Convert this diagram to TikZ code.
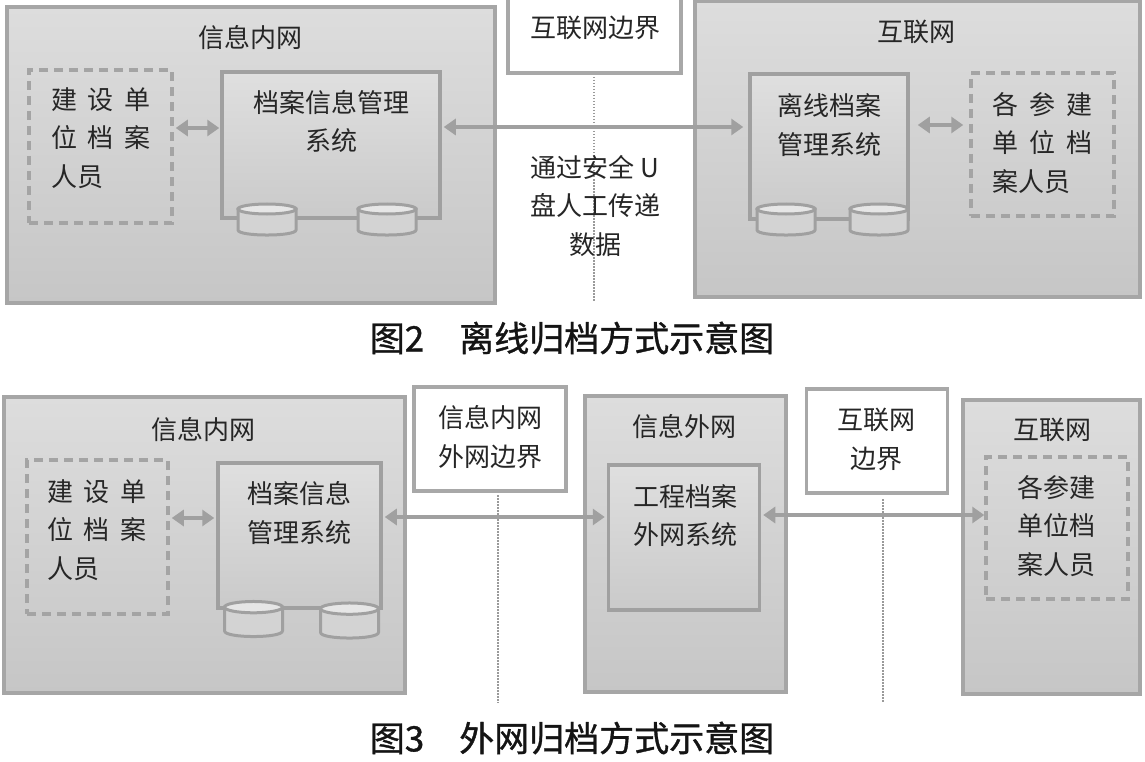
\documentclass[tikz,border=0pt]{standalone}
\usepackage{fontspec}
\setmainfont{Noto Sans CJK SC}
\usetikzlibrary{arrows.meta}
\definecolor{netline}{HTML}{A6A6A6}
\definecolor{nettop}{HTML}{DDDDDD}
\definecolor{netbot}{HTML}{C6C6C6}
\definecolor{sysline}{HTML}{A0A0A0}
\definecolor{systop}{HTML}{DFDFDF}
\definecolor{sysbot}{HTML}{CACACA}
\definecolor{dashline}{HTML}{A4A4A4}
\definecolor{borderline}{HTML}{A8A8A8}
\definecolor{arrowc}{HTML}{A0A0A0}
\definecolor{dotc}{HTML}{9A9A9A}
\definecolor{cylbody}{HTML}{D3D3D3}
\definecolor{cyltop}{HTML}{E6E6E6}
\definecolor{txt}{HTML}{262626}
\definecolor{captxt}{HTML}{141414}
\tikzset{
  net/.style={draw=netline, line width=3.5pt, top color=nettop, bottom color=netbot, inner sep=0pt},
  sysbox/.style={draw=sysline, line width=3.5pt, top color=systop, bottom color=sysbot, inner sep=0pt},
  person/.style={draw=dashline, line width=3.5pt, dash pattern=on 9pt off 6pt, inner sep=0pt},
  borderbox/.style={draw=borderline, line width=3.5pt, fill=white, inner sep=0pt},
  lbl/.style={font=\fontsize{26}{38.5}\selectfont, text=txt, inner sep=0pt, align=center},
  lbll/.style={lbl, align=left},
  ttl/.style={font=\fontsize{26}{30}\selectfont, text=txt, inner sep=0pt},
  figcaption/.style={font=\fontsize{35}{40}\selectfont\addfontfeature{FakeBold=1}, text=captxt, inner sep=0pt},
  link/.style={draw=arrowc, line width=3.5pt, {Triangle[length=12pt,width=16pt]}-{Triangle[length=12pt,width=16pt]}},
  dotline/.style={draw=dotc, line width=2pt, dash pattern=on 1.5pt off 1.5pt},
  pics/dbcyl/.style={code={
    \path[fill=cylbody, draw=sysline, line width=3pt] (-29,-10.5) -- (-29,10.5)
      .. controls (-29,17.2) and (29,17.2) .. (29,10.5) -- (29,-10.5) -- cycle;
    \path[fill=cyltop, draw=sysline, line width=3pt] (0,-10.5) ellipse [x radius=29pt, y radius=5pt];
  }}
}
\begin{document}
\begin{tikzpicture}[x=1pt,y=-1pt]
\useasboundingbox (0,0) rectangle (1145,762);
\clip (0,0) rectangle (1145,762);
\fill[white] (0,0) rectangle (1145,762);

% ---------------- Figure 2 ----------------
\node[net, minimum width=488, minimum height=296] (L2) at (251,155) {};
\node[ttl] (L2t) at (250,38) {信息内网};
\node[person, minimum width=143, minimum height=153] (L2p) at (100.5,146.5) {};
\node[lbll, anchor=west] (L2pt) at (51,138) {\makebox[99pt][s]{建\hfill 设\hfill 单}\\\makebox[99pt][s]{位\hfill 档\hfill 案}\\人员};
\node[sysbox, minimum width=218, minimum height=146] (L2s) at (331,145) {};
\node[lbl] (L2st) at (331,121.5) {档案信息管理\\系统};
\pic at (267,219.5) {dbcyl};
\pic at (387,219.5) {dbcyl};

\node[borderbox, minimum width=173, minimum height=84] (B2) at (594.5,31) {};
\node[ttl] (B2t) at (595,28) {互联网边界};
\coordinate (B2d) at (594,302);
\draw[dotline] (594,77) -- (B2d);
\node[lbl] (U2) at (595,206) {通过安全 U\\盘人工传递\\数据};

\node[net, minimum width=445, minimum height=296] (R2) at (917.5,149) {};
\node[ttl] (R2t) at (916,32) {互联网};
\node[sysbox, minimum width=158, minimum height=145] (R2s) at (829,146.5) {};
\node[lbl] (R2st) at (829,125) {离线档案\\管理系统};
\pic at (786,219.5) {dbcyl};
\pic at (879,219.5) {dbcyl};
\node[person, minimum width=143, minimum height=143] (R2p) at (1042.5,144.5) {};
\node[lbll, anchor=west] (R2pt) at (992,143) {\makebox[100pt][s]{各\hfill 参\hfill 建}\\\makebox[100pt][s]{单\hfill 位\hfill 档}\\案人员};

\draw[link, shorten <=2pt, shorten >=1pt] (L2p.east |- 0,128) -- (L2s.west |- 0,128);
\draw[link, shorten <=2pt, shorten >=5pt] (L2s.east |- 0,127) -- (R2s.west |- 0,127);
\draw[link, shorten <=8pt, shorten >=6pt] (R2s.east |- 0,125) -- (R2p.west |- 0,125);

\node[figcaption] (C2) at (572,338) {图2　离线归档方式示意图};

% ---------------- Figure 3 ----------------
\node[net, minimum width=401, minimum height=296] (L3) at (204.5,545) {};
\node[ttl] (L3t) at (203,430) {信息内网};
\node[person, minimum width=141, minimum height=154] (L3p) at (97.5,537) {};
\node[lbll, anchor=west] (L3pt) at (47,530) {\makebox[99pt][s]{建\hfill 设\hfill 单}\\\makebox[99pt][s]{位\hfill 档\hfill 案}\\人员};
\node[sysbox, minimum width=163, minimum height=145] (L3s) at (299.5,535.5) {};
\node[lbl] (L3st) at (299,513) {档案信息\\管理系统};
\pic[yscale=1.13] at (253.5,619) {dbcyl};
\pic[yscale=1.13] at (349.5,620.5) {dbcyl};

\node[borderbox, minimum width=152, minimum height=104] (B3a) at (490,439) {};
\node[lbl] (B3at) at (490,437) {信息内网\\外网边界};
\coordinate (B3ad) at (498,703);
\draw[dotline] (498,495) -- (B3ad);

\node[net, minimum width=201, minimum height=296] (M3) at (685.5,544) {};
\node[ttl] (M3t) at (684.5,427) {信息外网};
\node[sysbox, minimum width=151, minimum height=145] (M3s) at (684,537.5) {};
\node[lbl] (M3st) at (685,515.5) {工程档案\\外网系统};

\node[borderbox, minimum width=141, minimum height=104] (B3b) at (877,441) {};
\node[lbl] (B3bt) at (876,439.5) {互联网\\边界};
\coordinate (B3bd) at (883,703);
\draw[dotline] (883,499) -- (B3bd);

\node[net, minimum width=177, minimum height=294] (R3) at (1051.5,547) {};
\node[ttl] (R3t) at (1052,430) {互联网};
\node[person, minimum width=142, minimum height=142] (R3p) at (1057,528) {};
\node[lbl] (R3pt) at (1056,526) {各参建\\单位档\\案人员};

\draw[link, shorten <=2pt, shorten >=2pt] (L3p.east |- 0,518) -- (L3s.west |- 0,518);
\draw[link, shorten <=2pt, shorten >=2pt] (L3s.east |- 0,517) -- (M3s.west |- 0,517);
\draw[link, shorten <=2pt, shorten >=0pt] (M3s.east |- 0,515) -- (R3p.west |- 0,515);

\node[figcaption] (C3) at (572,738) {图3　外网归档方式示意图};
\end{tikzpicture}
\end{document}
